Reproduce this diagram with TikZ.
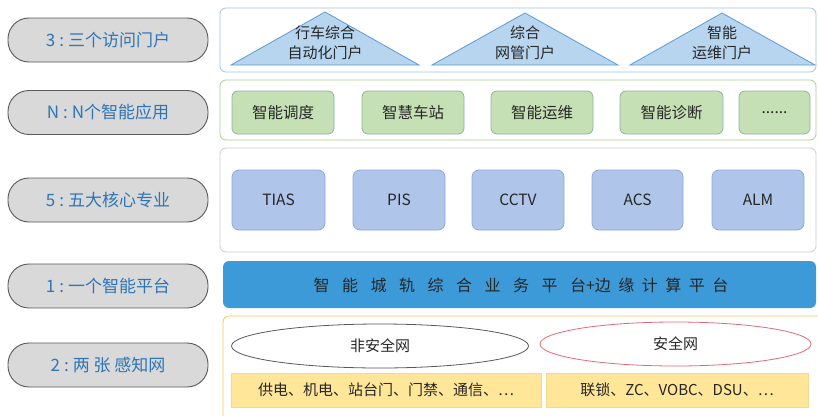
\documentclass[tikz,border=0pt]{standalone}
\usepackage{fontspec}
\setmainfont{Noto Sans CJK SC}
\usetikzlibrary{shapes.geometric}
\definecolor{pillfill}{HTML}{D9D9D9}
\definecolor{pilldraw}{HTML}{595959}
\definecolor{pilltext}{HTML}{2E75B6}
\definecolor{trifill}{HTML}{B7D5EF}
\definecolor{tridraw}{HTML}{5B9BD5}
\definecolor{gfill}{HTML}{C5E0B4}
\definecolor{gdraw}{HTML}{8FB3A0}
\definecolor{bfill}{HTML}{AFC6EA}
\definecolor{bdraw}{HTML}{8EA9DB}
\definecolor{barfill}{HTML}{3C9AD8}
\definecolor{yfill}{HTML}{FFE699}
\definecolor{ydraw}{HTML}{F2DA8C}
\definecolor{txt}{HTML}{262626}
\definecolor{p1draw}{HTML}{9DC3E6}
\definecolor{p2draw}{HTML}{A9D18E}
\definecolor{p3draw}{HTML}{C8CDD4}
\definecolor{p5draw}{HTML}{F0C860}
\definecolor{redline}{HTML}{E06C75}
\newcommand\gA{\hspace{12.5pt}}
\newcommand\gB{\hspace{7.5pt}}
\newcommand\cln{\hspace{4pt}:\hspace{4pt}}
\begin{document}
\begin{tikzpicture}[x=1pt,y=-1pt,
  pill/.style={draw=pilldraw, fill=pillfill, line width=0.9pt, rounded corners=21pt,
    minimum width=200pt, minimum height=44pt, inner sep=0pt, text=pilltext, font=\fontsize{17}{20}\selectfont},
  panel/.style={draw, fill=white, line width=0.8pt, rounded corners=6pt},
  gbox/.style={draw=gdraw, fill=gfill, line width=0.8pt, rounded corners=6pt,
    minimum height=43pt, inner sep=0pt, text=txt, font=\fontsize{15.5}{18}\selectfont},
  bbox/.style={draw=bdraw, fill=bfill, line width=0.8pt, rounded corners=7pt,
    minimum height=60pt, inner sep=0pt, text=txt, font=\fontsize{15.5}{18}\selectfont},
  ybox/.style={draw=ydraw, fill=yfill, line width=0.6pt,
    minimum height=34pt, inner sep=0pt, text=txt, font=\fontsize{15}{18}\selectfont},
  tri/.style={draw=tridraw, fill=trifill, line width=0.8pt},
  tritext/.style={align=center, text=txt, inner sep=0pt, font=\fontsize{15}{20}\selectfont},
  ell/.style={ellipse, draw, line width=0.8pt, minimum height=44pt, inner sep=0pt,
    text=txt, font=\fontsize{15}{18}\selectfont}
]
\useasboundingbox (0,0) rectangle (818,415);
\fill[white] (0,0) rectangle (818,415);
\begin{scope}
\clip (0,0) rectangle (818,415);
% left pills
\node[pill] (l1) at (108,40) {3\cln 三个访问门户};
\node[pill] (l2) at (108,112.5) {N\cln N个智能应用};
\node[pill] (l3) at (108,200) {5\cln 五大核心专业};
\node[pill] (l4) at (108,286) {1\cln 一个智能平台};
\node[pill] (l5) at (108,365) {2\cln 两 张 感知网};
% panels
\draw[panel, draw=p1draw] (220,8) rectangle (816,72);
\draw[panel, draw=p2draw] (220,80) rectangle (816,140);
\draw[panel, draw=p3draw] (220,148) rectangle (816,252);
\fill[barfill, rounded corners=6pt] (223,261) rectangle (816,308);
\draw[panel, draw=p5draw] (223,316) rectangle (830,430);
% triangles
\draw[tri] (231,65) -- (325,12) -- (419,65) -- cycle;
\draw[tri] (432,65) -- (525,13) -- (618,65) -- cycle;
\draw[tri] (630,65) -- (722,13) -- (815,65) -- cycle;
\node[tritext] (t1) at (325,43) {行车综合\\自动化门户};
\node[tritext] (t2) at (525,43) {综合\\网管门户};
\node[tritext] (t3) at (722,43) {智能\\运维门户};
% apps
\node[gbox, minimum width=102pt] (g1) at (283,112.5) {智能调度};
\node[gbox, minimum width=102pt] (g2) at (413,112.5) {智慧车站};
\node[gbox, minimum width=102pt] (g3) at (542,112.5) {智能运维};
\node[gbox, minimum width=103pt] (g4) at (671.5,112.5) {智能诊断};
\node[gbox, minimum width=71pt] (g5) at (774.5,112.5) {......};
% cores
\node[bbox, minimum width=93pt] (b1) at (278.5,200) {TIAS};
\node[bbox, minimum width=92pt] (b2) at (399,200) {PIS};
\node[bbox, minimum width=92pt] (b3) at (518,200) {CCTV};
\node[bbox, minimum width=91pt] (b4) at (637.5,200) {ACS};
\node[bbox, minimum width=92pt] (b5) at (758,200) {ALM};
% platform
\node[text=txt, inner sep=0pt, font=\fontsize{16}{18}\selectfont] (plat) at (521,285)
  {智\gA 能\gA 城\gA 轨\gA 综\gA 合\gA 业\gA 务\gA 平\gA 台+边\gB 缘\gB 计\gB 算\gB 平\gB 台};
% networks
\node[ell, draw=pilldraw, minimum width=297pt] (e1) at (380,346) {非安全网};
\node[ell, draw=redline, minimum width=271pt] (e2) at (675.5,344) {安全网};
\node[ybox, minimum width=310pt] (y1) at (386,390) {供电、机电、站台门、门禁、通信、…};
\node[ybox, minimum width=262pt] (y2) at (677,390) {联锁、ZC、VOBC、DSU、…};
\end{scope}
\end{tikzpicture}
\end{document}
